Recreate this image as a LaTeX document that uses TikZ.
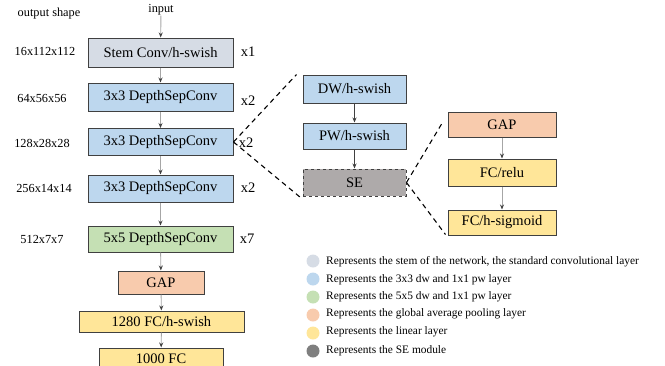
\documentclass[tikz,border=0pt]{standalone}
\usepackage{fontspec}
\setmainfont{Liberation Serif}
\usetikzlibrary{arrows.meta,calc}
\definecolor{stemc}{HTML}{D6DCE5}
\definecolor{bluec}{HTML}{BDD7EE}
\definecolor{greenc}{HTML}{C5E0B4}
\definecolor{salmonc}{HTML}{F8CBAD}
\definecolor{yellowc}{HTML}{FFE699}
\definecolor{sec}{HTML}{AEAAAA}
\definecolor{darkc}{HTML}{7F7F7F}
\definecolor{edgec}{HTML}{404040}
\tikzset{
  blk/.style={draw=edgec, line width=1pt, minimum height=27pt, inner sep=0pt, font=\fontsize{14.5}{16}\selectfont, anchor=center},
  lbl/.style={font=\fontsize{12.3}{14}\selectfont, anchor=center, inner sep=0pt},
  mul/.style={font=\fontsize{14.5}{16}\selectfont, anchor=center, inner sep=0pt},
  arr/.style={draw=gray!70, line width=0.9pt, -{Stealth[length=5pt,width=4pt,color=edgec]}},
  arrd/.style={draw=edgec, line width=0.6pt, -{Stealth[length=5pt,width=4pt]}},
  zoomline/.style={draw=black, line width=1.1pt, dash pattern=on 5pt off 4pt},
  legdot/.style={circle, minimum size=13pt, inner sep=0pt},
  legtxt/.style={font=\fontsize{11.4}{13}\selectfont, anchor=west, inner sep=0pt},
}
\begin{document}
\begin{tikzpicture}[x=1pt,y=-1pt]
\useasboundingbox (0,0) rectangle (665,365);
% left labels
\node[lbl] (os) at (49,14) {output shape};
\node[lbl] (s1) at (45,51) {16x112x112};
\node[lbl] (s2) at (42,98) {64x56x56};
\node[lbl] (s3) at (42,143) {128x28x28};
\node[lbl] (s4) at (44,188) {256x14x14};
\node[lbl] (s5) at (42,239) {512x7x7};
% main column
\node[lbl] (inp) at (161,10) {input};
\node[blk, fill=stemc, minimum width=145pt, minimum height=29pt] (stem) at (160.5,52.5) {Stem Conv/h-swish};
\node[blk, fill=bluec, minimum width=145pt, minimum height=28pt] (c1) at (160.5,97) {3x3 DepthSepConv};
\node[blk, fill=bluec, minimum width=145pt, minimum height=27pt] (c2) at (160.5,142) {3x3 DepthSepConv};
\node[blk, fill=bluec, minimum width=145pt, minimum height=27pt] (c3) at (160.5,188.5) {3x3 DepthSepConv};
\node[blk, fill=greenc, minimum width=145pt, minimum height=26pt] (c4) at (160.5,239) {5x5 DepthSepConv};
\node[blk, fill=salmonc, minimum width=86pt, minimum height=23pt] (gap) at (161,282.5) {GAP};
\node[blk, fill=yellowc, minimum width=165pt, minimum height=21pt] (fc1) at (161.5,321.5) {1280 FC/h-swish};
\node[blk, fill=yellowc, minimum width=124pt, minimum height=21pt] (fc2) at (161,358.5) {1000 FC};
\draw[arr] (inp) -- (stem);
\draw[arr] (stem) -- (c1);
\draw[arr] (c1) -- (c2);
\draw[arr] (c2) -- (c3);
\draw[arr] (c3) -- (c4);
\draw[arr] (c4) -- (gap);
\draw[arr] (gap) -- (fc1);
\draw[arr] (fc1) -- (fc2);
% multipliers
\node[mul] (m1) at (248,52) {x1};
\node[mul] (m2) at (248,101) {x2};
\node[mul] (m3) at (246,143) {x2};
\node[mul] (m4) at (248,188) {x2};
\node[mul] (m5) at (247,239) {x7};
% block detail
\node[blk, fill=bluec, minimum width=103pt, minimum height=28pt] (dw) at (354.5,89) {DW/h-swish};
\node[blk, fill=bluec, minimum width=103pt, minimum height=26pt] (pw) at (354.5,136) {PW/h-swish};
\node[blk, fill=sec, minimum width=103pt, minimum height=27pt, dashed] (se) at (354.5,182.5) {SE};
\draw[arrd] (dw) -- (pw);
\draw[arrd] (pw) -- (se);
\draw[zoomline] (c2.east) -- ($(dw.north west)+(-6,0)$);
\draw[zoomline] (c2.east) -- ($(se.south west)+(-2,1)$);
% SE detail
\node[blk, fill=salmonc, minimum width=108pt, minimum height=25pt] (gap2) at (502,124.5) {GAP};
\node[blk, fill=yellowc, minimum width=108pt, minimum height=27pt] (relu) at (502,172.5) {FC/relu};
\node[blk, fill=yellowc, minimum width=108pt, minimum height=25pt] (sig) at (502,222.5) {FC/h-sigmoid};
\draw[arr] (gap2) -- (relu);
\draw[arr] (relu) -- (sig);
\draw[zoomline] (se.east) -- ($(gap2.north west)+(-5,11)$);
\draw[zoomline] (se.east) -- ($(sig.south west)+(-2,-1)$);
% legend
\node[legdot, fill=stemc] (d1) at (313,261) {};
\node[legdot, fill=bluec] (d2) at (313,279) {};
\node[legdot, fill=greenc] (d3) at (313,297) {};
\node[legdot, fill=salmonc] (d4) at (313,315) {};
\node[legdot, fill=yellowc] (d5) at (313,333) {};
\node[legdot, fill=darkc] (d6) at (313,351) {};
\node[legtxt] (t1) at (326,262) {Represents the stem of the network, the standard convolutional layer};
\node[legtxt] (t2) at (326,280) {Represents the 3x3 dw and 1x1 pw layer};
\node[legtxt] (t3) at (326,297) {Represents the 5x5 dw and 1x1 pw layer};
\node[legtxt] (t4) at (326,314) {Represents the global average pooling layer};
\node[legtxt] (t5) at (326,332) {Represents the linear layer};
\node[legtxt] (t6) at (326,351) {Represents the SE module};
\end{tikzpicture}
\end{document}
